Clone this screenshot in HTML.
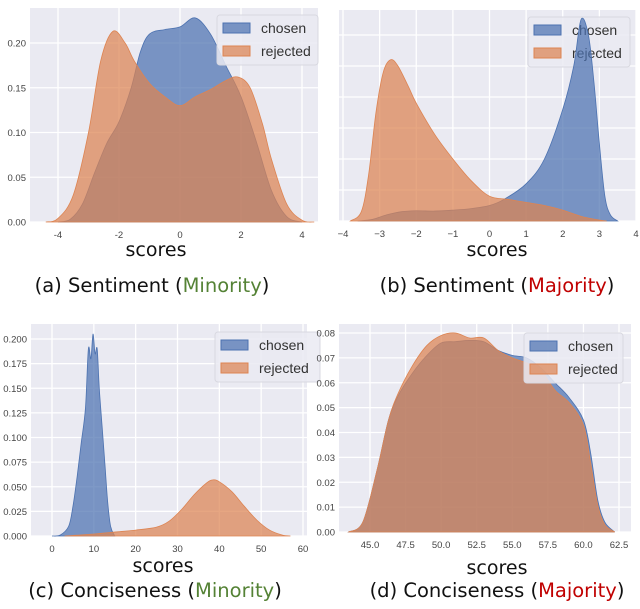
<!DOCTYPE html>
<html><head><meta charset="utf-8">
<style>
html,body{margin:0;padding:0;background:#fff;}
svg{display:block;font-family:"Liberation Sans",sans-serif;}
.cap{font-family:"DejaVu Sans","Liberation Sans",sans-serif;}
</style></head>
<body>
<svg id="fig" width="640" height="609" viewBox="0 0 640 609" xmlns="http://www.w3.org/2000/svg"></svg>
<script>
// ---- Panel (a) Sentiment Minority ----
const aChosenX = [-4,-3.6,-3.2,-2.8,-2.4,-2,-1.6,-1.3,-1,-0.5,0,0.5,1,1.5,2,2.5,3,3.5,4];
const aChosenY = [0,0.003,0.02,0.055,0.088,0.112,0.15,0.19,0.21,0.215,0.218,0.228,0.21,0.175,0.14,0.09,0.035,0.006,0];
const aRejX = [-4.4,-4,-3.5,-3,-2.6,-2.2,-1.8,-1.5,-1,-0.5,0,0.5,1,1.5,1.9,2.3,2.7,3,3.5,4,4.4];
const aRejY = [0,0.004,0.03,0.1,0.18,0.213,0.2,0.18,0.155,0.14,0.13,0.14,0.148,0.158,0.162,0.15,0.11,0.07,0.02,0.002,0];
const aXTicks = [-4,-2,0,2,4];
const aYTicks = [0,0.05,0.1,0.15,0.2];
// ---- Panel (b) Sentiment Majority ----
const bChosenX = [-3.6,-3.2,-2.8,-2.4,-2,-1.5,-1,-0.5,0,0.4,1,1.5,2,2.3,2.5,2.7,2.85,3,3.15,3.3,3.5];
const bChosenY = [0,0.05,0.2,0.3,0.33,0.32,0.35,0.4,0.5,0.7,1.2,2.0,3.6,5.0,6.5,6.0,4.5,2.5,0.8,0.2,0];
const bRejX = [-3.8,-3.5,-3.3,-3.1,-2.9,-2.7,-2.5,-2.2,-2,-1.5,-1,-0.5,0,0.5,1,1.5,2,2.5,3,3.2];
const bRejY = [0,0.3,1.5,3.5,4.8,5.2,5.0,4.3,3.8,2.8,2.0,1.3,0.8,0.7,0.6,0.5,0.35,0.15,0.03,0];
const bXTicks = [-4,-3,-2,-1,0,1,2,3,4];
const bYTicks = [0,1,2,3,4,5,6];
// ---- Panel (c) Conciseness Minority ----
const cChosenX = [0,2,4,5,6,7,8,8.7,9.3,9.8,10.3,10.8,11.3,12,12.7,13.3,14,15];
const cChosenY = [0,0.001,0.01,0.03,0.06,0.095,0.13,0.19,0.18,0.205,0.185,0.19,0.15,0.11,0.07,0.035,0.01,0];
const cRejX = [3,10,15,20,25,28,31,34,37,38.5,40,43,46,49,52,55,57];
const cRejY = [0,0.002,0.004,0.006,0.009,0.015,0.027,0.042,0.054,0.057,0.055,0.045,0.03,0.016,0.006,0.001,0];
const cXTicks = [0,10,20,30,40,50,60];
const cYTicks = [0,0.025,0.05,0.075,0.1,0.125,0.15,0.175,0.2];
// ---- Panel (d) Conciseness Majority ----
const dChosenX = [43.5,44.5,45.5,46.3,47,48,49,50,51,52,53,54,55,56,57,58,59,60,60.5,61,61.5,62.2];
const dChosenY = [0,0.004,0.025,0.045,0.055,0.064,0.071,0.076,0.0765,0.077,0.0765,0.073,0.071,0.07,0.066,0.06,0.054,0.045,0.032,0.013,0.004,0];
const dRejX = [43.5,44.5,45.5,46.3,47,48,49,50,51,52,53,54,55,56,57,58,59,60,60.5,61,61.5,62.2];
const dRejY = [0,0.004,0.025,0.045,0.056,0.067,0.075,0.079,0.08,0.078,0.078,0.073,0.07,0.068,0.065,0.057,0.052,0.043,0.028,0.011,0.003,0];
const dXTicks = [45,47.5,50,52.5,55,57.5,60,62.5];
const dYTicks = [0,0.01,0.02,0.03,0.04,0.05,0.06,0.07,0.08];

const NS = "http://www.w3.org/2000/svg";
const svg = document.getElementById('fig');
const BLUE = "#4c72b0", ORANGE = "#dd8452";
function mk(tag, attrs, parent){
  const e = document.createElementNS(NS, tag);
  for (const k in attrs) e.setAttribute(k, attrs[k]);
  (parent||svg).appendChild(e);
  return e;
}
function linScale(d0,d1,r0,r1){ return v => r0 + (v-d0)/(d1-d0)*(r1-r0); }
function smoothPath(pts){
  let d = "M"+pts[0][0]+","+pts[0][1];
  for(let i=0;i<pts.length-1;i++){
    const p0=pts[Math.max(0,i-1)],p1=pts[i],p2=pts[i+1],p3=pts[Math.min(pts.length-1,i+2)];
    const c1x=p1[0]+(p2[0]-p0[0])/6, c1y=p1[1]+(p2[1]-p0[1])/6;
    const c2x=p2[0]-(p3[0]-p1[0])/6, c2y=p2[1]-(p3[1]-p1[1])/6;
    d+=" C"+c1x.toFixed(2)+","+c1y.toFixed(2)+" "+c2x.toFixed(2)+","+c2y.toFixed(2)+" "+p2[0].toFixed(2)+","+p2[1].toFixed(2);
  }
  return d;
}
function drawLegend(g,L){
  const lg=mk('g',{},g);
  
  
  mk('rect',{x:L.x,y:L.y,width:L.w,height:50,rx:3,fill:"#eaeaf2","fill-opacity":0.85,stroke:"#d8d8e0"},lg);
  [["chosen",BLUE],["rejected",ORANGE]].forEach((e,i)=>{
    const eg=mk('g',{},lg);
    
    
    mk('rect',{x:L.x+6,y:L.y+8+i*23,width:27,height:10,fill:e[1],"fill-opacity":0.72,stroke:e[1]},eg);
    const t=mk('text',{x:L.x+44,y:L.y+18+i*23,"font-size":14,fill:"#333"},eg);
    t.textContent=e[0];
  });
}
function panel(cfg){
  const g = mk('g',{});
  
  
  const bg = mk('rect',{x:cfg.x0,y:cfg.y0,width:cfg.x1-cfg.x0,height:cfg.y1-cfg.y0,fill:"#eaeaf2"},g);
  
  
  const sx = linScale(cfg.xd[0],cfg.xd[1],cfg.xr[0],cfg.xr[1]);
  const sy = linScale(cfg.yd[0],cfg.yd[1],cfg.yr[0],cfg.yr[1]);
  cfg.xTicks.forEach(t=>{
    const x=sx(t);
    const l=mk('line',{x1:x,x2:x,y1:cfg.y0,y2:cfg.y1,stroke:"#fff","stroke-width":1.3},g);
    
    
    const tx=mk('text',{x:x,y:cfg.y1+16,"font-size":9.5,fill:"#444","text-anchor":"middle"},g);
    tx.textContent = cfg.xfmt ? cfg.xfmt(t) : String(t);
    
    
  });
  cfg.yTicks.forEach(t=>{
    const y=sy(t);
    const l=mk('line',{x1:cfg.x0,x2:cfg.x1,y1:y,y2:y,stroke:"#fff","stroke-width":1.3},g);
    
    
    if(cfg.yfmt){
      const tx=mk('text',{x:cfg.x0-4,y:y+3.5,"font-size":9.5,fill:"#444","text-anchor":"end"},g);
      tx.textContent = cfg.yfmt(t);
      
      
    }
  });
  if(cfg.legendBehind) drawLegend(g,cfg.leg);
  cfg.series.forEach(s=>{
    const pts = s.xs.map((v,i)=>[sx(v), sy(s.ys[i])]);
    const d = smoothPath(pts) + " L"+pts[pts.length-1][0]+","+sy(0)+" L"+pts[0][0]+","+sy(0)+" Z";
    const p=mk('path',{d:d,fill:s.color,"fill-opacity":0.72,stroke:s.color,"stroke-width":0.8},g);
    
    
  });
  if(!cfg.legendBehind) drawLegend(g,cfg.leg);
  const xt=mk('text',{x:cfg.titleX,y:cfg.titleY,"font-size":19,fill:"#111","text-anchor":"middle",class:"cap"});
  xt.textContent="scores";
  
  
  const cp=mk('text',{x:cfg.capX,y:cfg.capY,"font-size":19.5,fill:"#111","text-anchor":"middle",class:"cap"});
  
  
  cp.appendChild(document.createTextNode(cfg.cap1+" ("));
  const sp=document.createElementNS(NS,'tspan');
  sp.setAttribute('fill',cfg.capColor);
  sp.textContent=cfg.cap2;
  cp.appendChild(sp);
  cp.appendChild(document.createTextNode(")"));
}
panel({name:"panel-a-sentiment-minority",x0:30,x1:318,y0:8,y1:222,
  xd:[-4,4],xr:[58,302],yd:[0,0.2],yr:[222,43],
  xTicks:aXTicks,yTicks:aYTicks,yfmt:t=>t.toFixed(2),
  series:[{name:"chosen-density",xs:aChosenX,ys:aChosenY,color:BLUE},{name:"rejected-density",xs:aRejX,ys:aRejY,color:ORANGE}],
  leg:{x:217,y:15,w:101},titleX:156,titleY:256,capX:152,capY:292,
  cap1:"(a) Sentiment",cap2:"Minority",capColor:"#548235"});
panel({name:"panel-b-sentiment-majority",x0:339,x1:636,y0:10,y1:221,
  xd:[-4,4],xr:[343,636],yd:[0,1],yr:[221,190],legendBehind:true,
  xTicks:bXTicks,yTicks:bYTicks,xfmt:t=>t<0?"\u2212"+(-t):String(t),
  series:[{name:"chosen-density",xs:bChosenX,ys:bChosenY,color:BLUE},{name:"rejected-density",xs:bRejX,ys:bRejY,color:ORANGE}],
  leg:{x:528,y:17,w:102},titleX:497,titleY:256,capX:497,capY:292,
  cap1:"(b) Sentiment",cap2:"Majority",capColor:"#c00000"});
panel({name:"panel-c-conciseness-minority",x0:31,x1:307,y0:324,y1:536,
  xd:[0,60],xr:[52,303],yd:[0,0.2],yr:[536,339],
  xTicks:cXTicks,yTicks:cYTicks,yfmt:t=>t.toFixed(3),
  series:[{name:"chosen-density",xs:cChosenX,ys:cChosenY,color:BLUE},{name:"rejected-density",xs:cRejX,ys:cRejY,color:ORANGE}],
  leg:{x:215,y:332,w:105},titleX:163,titleY:572,capX:155,capY:597,
  cap1:"(c) Conciseness",cap2:"Minority",capColor:"#548235"});
panel({name:"panel-d-conciseness-majority",x0:339,x1:631,y0:324,y1:532,
  xd:[45,62.5],xr:[370,619],yd:[0,0.08],yr:[532,333],
  xTicks:dXTicks,yTicks:dYTicks,yfmt:t=>t.toFixed(2),xfmt:t=>t.toFixed(1),
  series:[{name:"chosen-density",xs:dChosenX,ys:dChosenY,color:BLUE},{name:"rejected-density",xs:dRejX,ys:dRejY,color:ORANGE}],
  leg:{x:524,y:333,w:99},titleX:497,titleY:574,capX:497,capY:597,
  cap1:"(d) Conciseness",cap2:"Majority",capColor:"#c00000"});
</script>
</body></html>
